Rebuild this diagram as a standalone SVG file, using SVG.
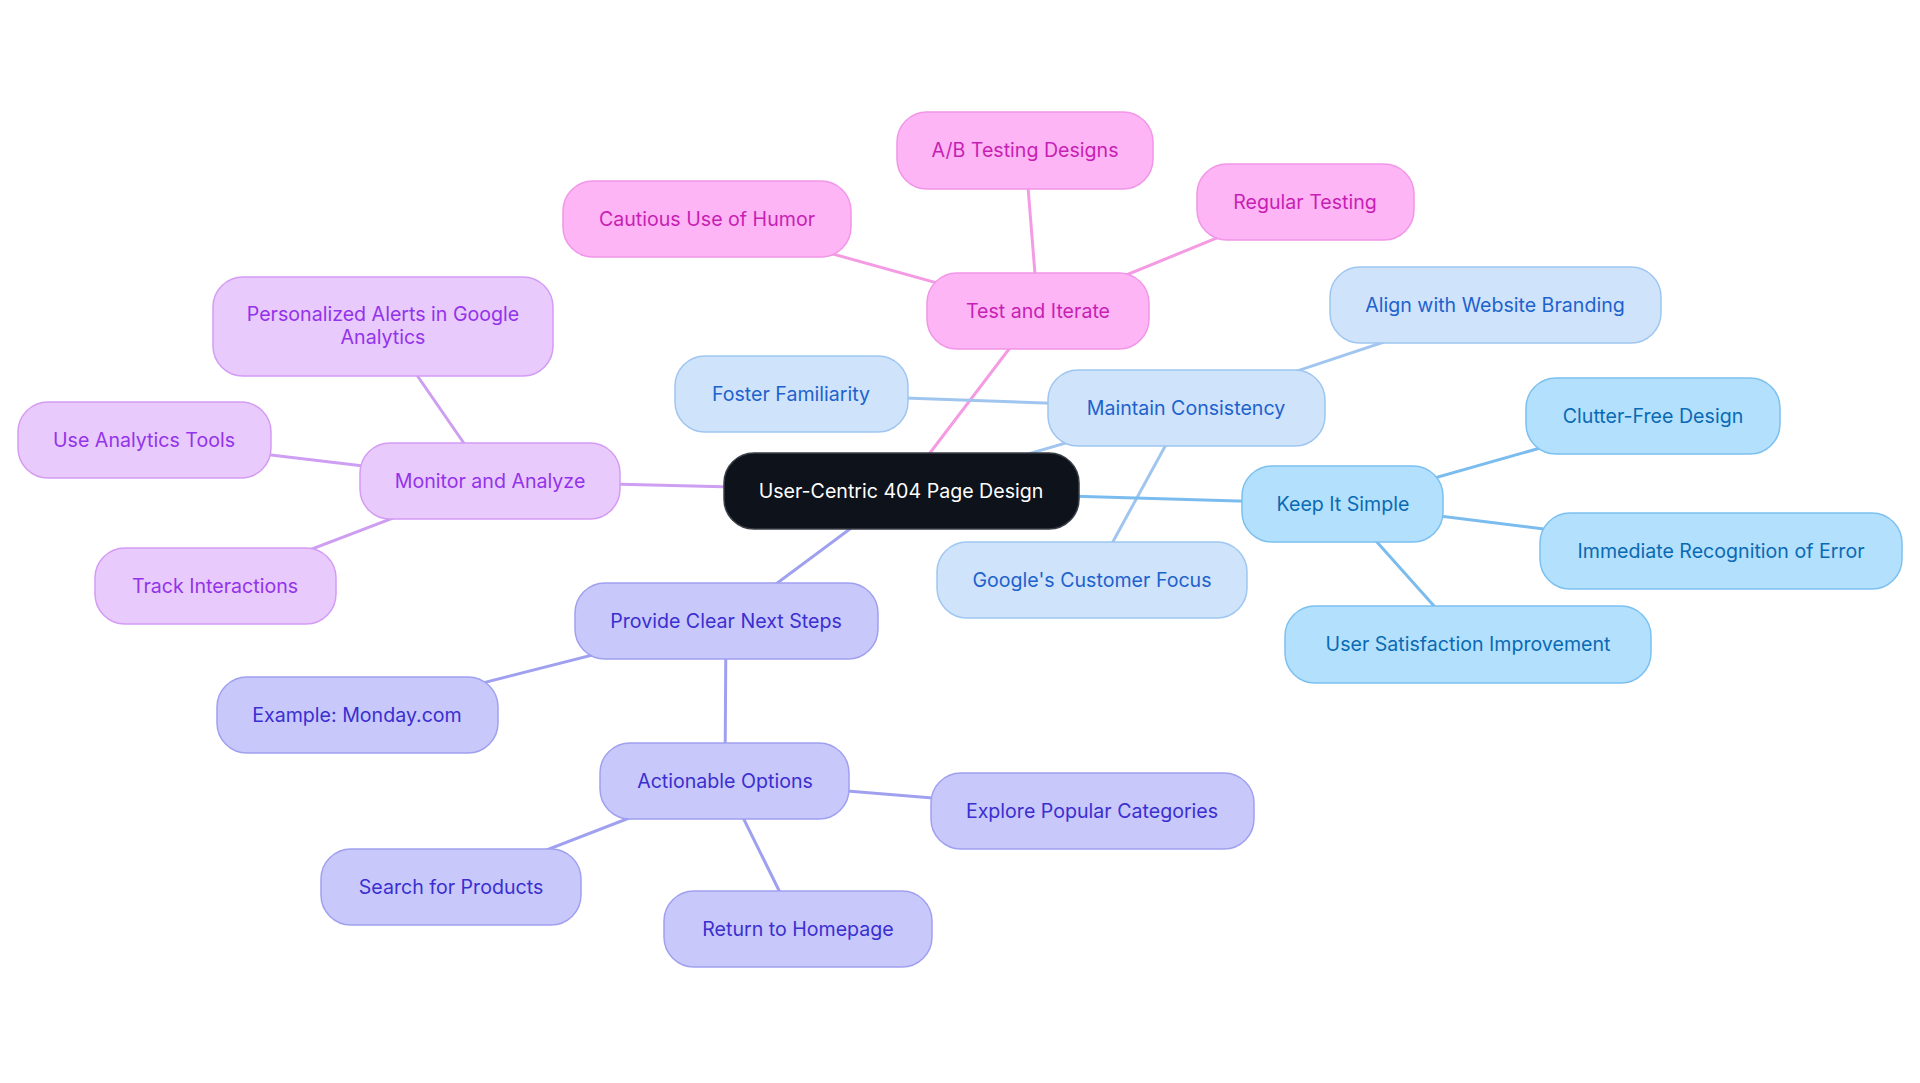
<svg xmlns="http://www.w3.org/2000/svg" width="1920" height="1083" viewBox="0 0 1920 1083">
<style>
text{font-family:Inter,"Noto Sans","Liberation Sans",sans-serif;font-size:19.6px;text-anchor:middle}
.e{fill:none;stroke-width:3;stroke-linecap:round}
.ep{stroke:#f49be4}.eb{stroke:#a0c6f0}.es{stroke:#7bbcef}.em{stroke:#cd9ef2}.el{stroke:#a0a0f0}
.root rect{fill:#0d121b;stroke:#3a3f47;stroke-width:1.5}.root text{fill:#ffffff}
.p rect{fill:#fdb5f5;stroke:#f196e8;stroke-width:1.5}.p text{fill:#c71fb4}
.b rect{fill:#cfe3fb;stroke:#9fc6f0;stroke-width:1.5}.b text{fill:#1e62cc}
.s rect{fill:#b3e0fd;stroke:#7cc0ef;stroke-width:1.5}.s text{fill:#0a6ab3}
.m rect{fill:#e8cafc;stroke:#d49cf3;stroke-width:1.5}.m text{fill:#9333ea}
.l rect{fill:#c8c8fb;stroke:#a0a0f0;stroke-width:1.5}.l text{fill:#3b2fd0}
</style>
<g id="connectors">
<line class="e ep" x1="901" y1="491" x2="1038" y2="311"/>
<line class="e ep" x1="1038" y1="311" x2="1025" y2="150"/>
<line class="e ep" x1="1038" y1="311" x2="707" y2="219"/>
<line class="e ep" x1="1038" y1="311" x2="1305" y2="202"/>
<line class="e eb" x1="901" y1="491" x2="1186" y2="408"/>
<line class="e eb" x1="1186" y1="408" x2="1495" y2="305"/>
<line class="e eb" x1="1186" y1="408" x2="791" y2="394"/>
<line class="e eb" x1="1186" y1="408" x2="1092" y2="580"/>
<line class="e es" x1="901" y1="491" x2="1343" y2="504"/>
<line class="e es" x1="1343" y1="504" x2="1653" y2="416"/>
<line class="e es" x1="1343" y1="504" x2="1721" y2="551"/>
<line class="e es" x1="1343" y1="504" x2="1468" y2="644"/>
<line class="e em" x1="901" y1="491" x2="490" y2="481"/>
<line class="e em" x1="490" y1="481" x2="383" y2="326"/>
<line class="e em" x1="490" y1="481" x2="144" y2="440"/>
<line class="e em" x1="490" y1="481" x2="215" y2="586"/>
<line class="e el" x1="901" y1="491" x2="726" y2="621"/>
<line class="e el" x1="726" y1="621" x2="357" y2="715"/>
<line class="e el" x1="726" y1="621" x2="725" y2="781"/>
<line class="e el" x1="725" y1="781" x2="1092" y2="811"/>
<line class="e el" x1="725" y1="781" x2="451" y2="887"/>
<line class="e el" x1="725" y1="781" x2="798" y2="929"/>
</g>
<g id="root" class="root"><rect x="724" y="453" width="355" height="76" rx="30"/><text x="901" y="498">User-Centric 404 Page Design</text></g>
<g id="test" class="p"><rect x="927" y="273" width="222" height="76" rx="30"/><text x="1038" y="318">Test and Iterate</text></g>
<g id="ab" class="p"><rect x="897" y="112" width="256" height="77" rx="30"/><text x="1025" y="157">A/B Testing Designs</text></g>
<g id="humor" class="p"><rect x="563" y="181" width="288" height="76" rx="30"/><text x="707" y="226">Cautious Use of Humor</text></g>
<g id="regular" class="p"><rect x="1197" y="164" width="217" height="76" rx="30"/><text x="1305" y="209">Regular Testing</text></g>
<g id="consistency" class="b"><rect x="1048" y="370" width="277" height="76" rx="30"/><text x="1186" y="415">Maintain Consistency</text></g>
<g id="align" class="b"><rect x="1330" y="267" width="331" height="76" rx="30"/><text x="1495" y="312">Align with Website Branding</text></g>
<g id="foster" class="b"><rect x="675" y="356" width="233" height="76" rx="30"/><text x="791" y="401">Foster Familiarity</text></g>
<g id="google" class="b"><rect x="937" y="542" width="310" height="76" rx="30"/><text x="1092" y="587">Google's Customer Focus</text></g>
<g id="simple" class="s"><rect x="1242" y="466" width="201" height="76" rx="30"/><text x="1343" y="511">Keep It Simple</text></g>
<g id="clutter" class="s"><rect x="1526" y="378" width="254" height="76" rx="30"/><text x="1653" y="423">Clutter-Free Design</text></g>
<g id="immediate" class="s"><rect x="1540" y="513" width="362" height="76" rx="30"/><text x="1721" y="558">Immediate Recognition of Error</text></g>
<g id="satisfaction" class="s"><rect x="1285" y="606" width="366" height="77" rx="30"/><text x="1468" y="651">User Satisfaction Improvement</text></g>
<g id="monitor" class="m"><rect x="360" y="443" width="260" height="76" rx="30"/><text x="490" y="488">Monitor and Analyze</text></g>
<g id="alerts" class="m"><rect x="213" y="277" width="340" height="99" rx="30"/><text x="383" y="321">Personalized Alerts in Google</text><text x="383" y="344">Analytics</text></g>
<g id="tools" class="m"><rect x="18" y="402" width="253" height="76" rx="30"/><text x="144" y="447">Use Analytics Tools</text></g>
<g id="track" class="m"><rect x="95" y="548" width="241" height="76" rx="30"/><text x="215" y="593">Track Interactions</text></g>
<g id="steps" class="l"><rect x="575" y="583" width="303" height="76" rx="30"/><text x="726" y="628">Provide Clear Next Steps</text></g>
<g id="monday" class="l"><rect x="217" y="677" width="281" height="76" rx="30"/><text x="357" y="722">Example: Monday.com</text></g>
<g id="actionable" class="l"><rect x="600" y="743" width="249" height="76" rx="30"/><text x="725" y="788">Actionable Options</text></g>
<g id="explore" class="l"><rect x="931" y="773" width="323" height="76" rx="30"/><text x="1092" y="818">Explore Popular Categories</text></g>
<g id="search" class="l"><rect x="321" y="849" width="260" height="76" rx="30"/><text x="451" y="894">Search for Products</text></g>
<g id="homepage" class="l"><rect x="664" y="891" width="268" height="76" rx="30"/><text x="798" y="936">Return to Homepage</text></g>
</svg>
